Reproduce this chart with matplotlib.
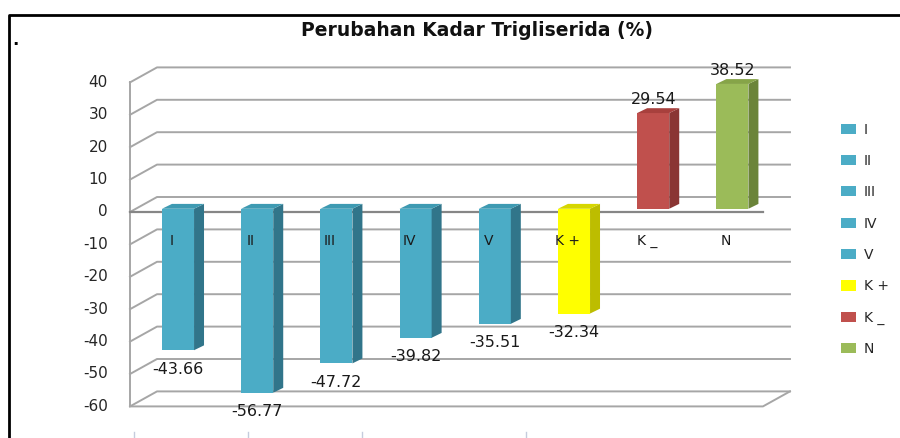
import numpy as np
import matplotlib
matplotlib.use("Agg")
import matplotlib.pyplot as plt
from matplotlib.patches import Polygon, Patch
from matplotlib.lines import Line2D

# data
categories = ['I', 'II', 'III', 'IV', 'V', 'K +', 'K _', 'N']
values = [-43.66, -56.77, -47.72, -39.82, -35.51, -32.34, 29.54, 38.52]
front_cols = ['#4BACC6'] * 5 + ['#FFFF00', '#C0504D', '#9BBB59']
side_cols = ['#31758A'] * 5 + ['#BDBD00', '#8A3533', '#6B8439']
top_cols = ['#3E9AB2'] * 5 + ['#D6D600', '#A8403D', '#86A448']
yticks = np.arange(-60, 41, 10)

title = 'Perubahan Kadar Trigliserida (%)'

fig = plt.figure(figsize=(9, 4.38), dpi=100)
ax = fig.add_axes([0, 0, 1, 1])
# one category step = 79.2 px, 10 units = 32.4 px
ax.set_xlim(-178 / 79.2, (900 - 178) / 79.2)
ax.set_ylim((212 - 438) / 3.24, 212 / 3.24)
ax.axis('off')

x_left = -0.606          # front wall
x_right = 7.386          # front floor end
dx, dy = 0.341, 4.63     # depth offset of back wall
grid_c = '#A6A6A6'

# side wall + back wall gridlines
for v in yticks:
    ax.plot([x_left, x_left + dx, x_right + dx], [v, v + dy, v + dy],
            color=grid_c, lw=1.4, zorder=1)
    ax.text(x_left - 0.28, v, str(v), ha='right', va='center',
            fontsize=11, color='#262626')
ax.plot([x_left, x_left], [yticks[0], yticks[-1]], color=grid_c, lw=1.4, zorder=1)
# floor front edge at -60 and the zero line
ax.plot([x_left, x_right, x_right + dx], [-60, -60, -60 + dy], color=grid_c, lw=1.4, zorder=1)
ax.plot([x_left, x_right], [0, 0], color='#868686', lw=1.6, zorder=2)

# bars
w, d, dz = 0.405, 0.126, 1.5
base = 1.0
for i, (v, fc, sc, tc) in enumerate(zip(values, front_cols, side_cols, top_cols)):
    l, r = i - w / 2, i + w / 2
    end = base + v
    hi = max(base, end)
    ax.add_patch(Polygon([[l, base], [r, base], [r, end], [l, end]],
                         closed=True, fc=fc, ec='none', zorder=3))
    ax.add_patch(Polygon([[r, base], [r + d, base + dz], [r + d, end + dz], [r, end]],
                         closed=True, fc=sc, ec='none', zorder=3))
    ax.add_patch(Polygon([[l, hi], [r, hi], [r + d, hi + dz], [l + d, hi + dz]],
                         closed=True, fc=tc, ec='none', zorder=3))
    ax.text(i - 0.08, -9, categories[i], ha='center', va='center', fontsize=10,
            color='#1a1a1a', zorder=5)
    if v < 0:
        ax.text(i, end - 5.9, f'{v:.2f}', ha='center', va='center',
                fontsize=11.5, color='#1a1a1a', zorder=5)
    else:
        ax.text(i, end + 4.1, f'{v:.2f}', ha='center', va='center',
                fontsize=11.5, color='#1a1a1a', zorder=5)

# legend
handles = [Patch(fc=c, ec='none') for c in front_cols]
fig.legend(handles, categories, loc='upper left', bbox_to_anchor=(828 / 900, 1 - 110 / 438),
           frameon=False, fontsize=10, handlelength=1.1, handleheight=0.75,
           handletextpad=0.6, labelspacing=1.25, labelcolor='#262626')

fig.text(477 / 900, 1 - 30 / 438, title, ha='center', va='center',
         fontsize=13.5, fontweight='bold', color='#111111')

# outer frame
fig.add_artist(Line2D([9 / 900, 9 / 900, 1], [0, 1 - 15 / 438, 1 - 15 / 438],
                      transform=fig.transFigure, color='black', lw=2))
fig.text(12 / 900, 1 - 40 / 438, '.', fontsize=12, fontweight='bold', ha='left', va='center')
for px in [134, 248, 362, 526]:
    fig.add_artist(Line2D([px / 900, px / 900], [0, 6 / 438],
                          transform=fig.transFigure, color='#C5CCDD', lw=1))

fig.savefig('out.png', dpi=100)
